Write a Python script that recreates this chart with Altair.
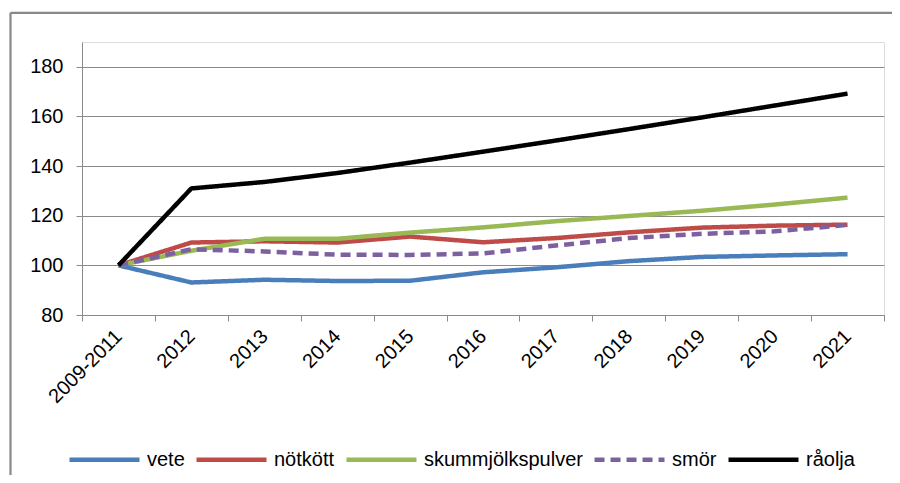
import altair as alt
import pandas as pd

periods = ["2009-2011", "2012", "2013", "2014", "2015", "2016", "2017", "2018", "2019", "2020", "2021"]
series_names = ["vete", "nötkött", "skummjölkspulver", "smör", "råolja"]
vete = [100, 93.1, 94.2, 93.7, 93.8, 97.2, 99.2, 101.7, 103.4, 104.0, 104.5]
notkott = [100, 109.2, 109.7, 109.2, 111.6, 109.3, 111.0, 113.3, 115.2, 116.0, 116.4]
skum = [100, 105.9, 110.7, 110.7, 113.2, 115.3, 117.8, 119.9, 122.0, 124.5, 127.3]
smor = [100, 106.5, 105.6, 104.3, 104.2, 104.8, 108.0, 111.0, 112.7, 113.7, 116.3]
raolja = [100, 131.0, 133.6, 137.2, 141.4, 145.8, 150.3, 154.9, 159.6, 164.4, 169.2]
colors = ["#4A7EBB", "#BE4B48", "#98B954", "#7D60A0", "#000000"]
dashes = [[1, 0], [1, 0], [1, 0], [10, 6], [1, 0]]

rows = []
for name, vals in zip(series_names, [vete, notkott, skum, smor, raolja]):
    for p, v in zip(periods, vals):
        rows.append({"period": p, "serie": name, "value": v})
df = pd.DataFrame(rows)

FONT = "Liberation Sans"
FS = 20
LFS = 20
GRID = "#8a8a8a"

legend_kw = dict(title=None, orient="none", legendX=-15, legendY=380,
                 direction="horizontal", columns=5, symbolType="stroke",
                 symbolSize=4900, symbolStrokeWidth=4.5, labelFont=FONT,
                 labelFontSize=LFS, labelColor="#000000", labelOffset=5,
                 columnPadding=2, padding=0, labelLimit=400)

lines = alt.Chart(df).mark_line(strokeWidth=4.5, strokeJoin="round", strokeCap="butt").encode(
    x=alt.X("period:O", sort=periods, bandPosition=0.5,
            scale=alt.Scale(type="band", paddingInner=0, paddingOuter=0),
            axis=alt.Axis(title=None, tickBand="extent", labelAngle=-45, labelAlign="right",
                          labelBaseline="middle", tickSize=6, tickColor=GRID, domainColor=GRID,
                          labelPadding=12, labelFont=FONT, labelFontSize=FS, labelColor="#000000",
                          grid=False, labelOverlap=False, labelFlush=False)),
    y=alt.Y("value:Q", scale=alt.Scale(domain=[80, 190], nice=False, zero=False),
            axis=alt.Axis(title=None, values=[80, 100, 120, 140, 160, 180], grid=True,
                          gridColor=GRID, tickColor=GRID, domainColor=GRID, tickSize=6,
                          labelPadding=13, labelFont=FONT, labelFontSize=FS, labelColor="#000000")),
    color=alt.Color("serie:N", sort=series_names,
                    scale=alt.Scale(domain=series_names, range=colors),
                    legend=alt.Legend(**legend_kw)),
    strokeDash=alt.StrokeDash("serie:N", sort=series_names,
                              scale=alt.Scale(domain=series_names, range=dashes),
                              legend=alt.Legend(**legend_kw)),
)

frame_df = pd.DataFrame({"k": [0]})
top_line = alt.Chart(frame_df).mark_rule(color="#888888", strokeWidth=2.2).encode(
    x=alt.value(-71.5), x2=alt.value(900), y=alt.value(-29.2))
left_line = alt.Chart(frame_df).mark_rule(color="#888888", strokeWidth=2.2).encode(
    x=alt.value(-71.5), y=alt.value(-29.2), y2=alt.value(470))

chart = alt.layer(top_line, left_line, lines).properties(
    width=802, height=273,
    autosize=alt.AutoSizeParams(type="none"),
    padding={"left": 74, "top": 34, "right": 8, "bottom": 160},
).configure_view(stroke="transparent").configure(background="white")

chart.save("out.html", embed_options={"renderer": "svg", "actions": False})
